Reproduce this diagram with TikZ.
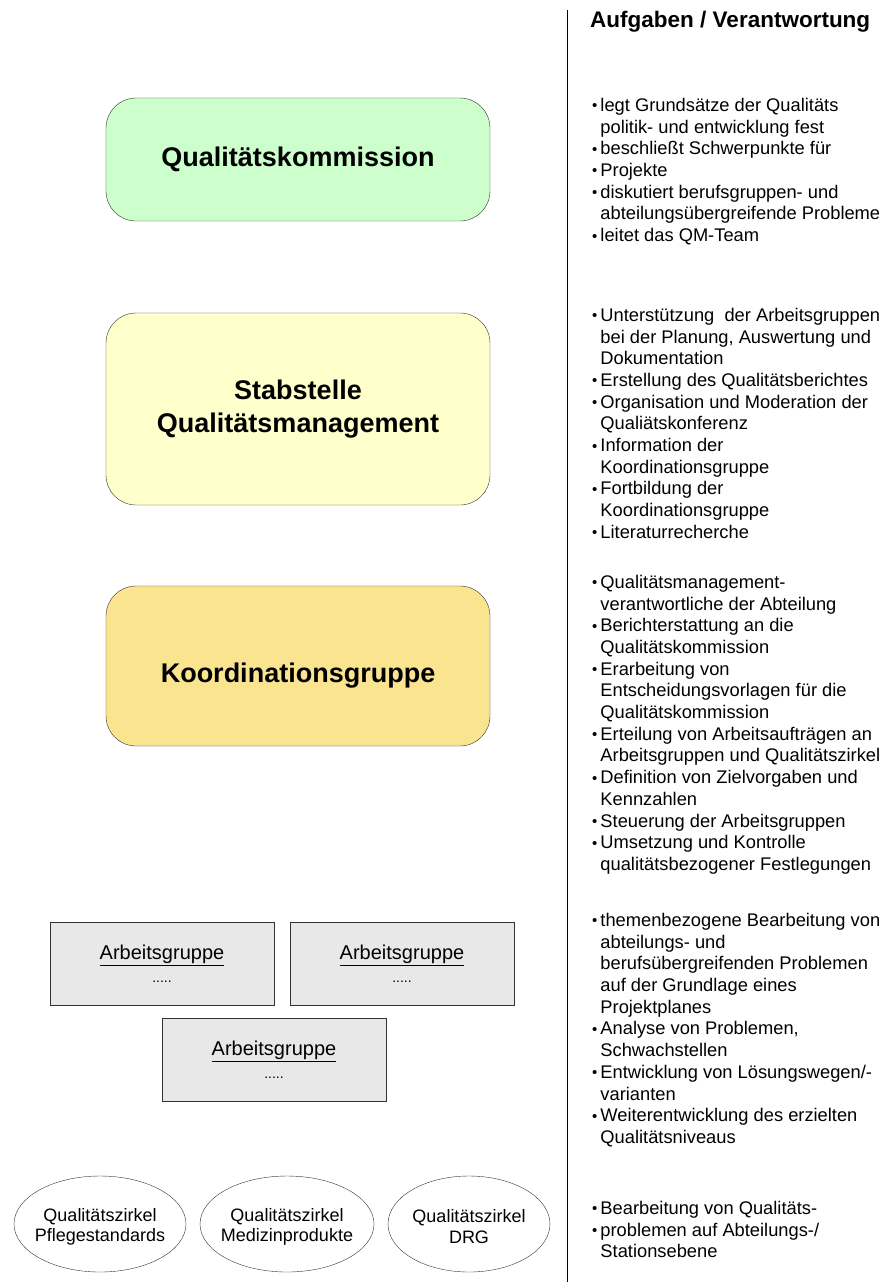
\documentclass[tikz,border=0pt]{standalone}
\usepackage{fontspec}
\setmainfont{Liberation Sans}
\usepackage{tikz}
\usetikzlibrary{positioning,shapes}
\usepackage{xcolor}
\definecolor{qkgreen}{RGB}{204,255,204}
\definecolor{sqyellow}{RGB}{255,255,204}
\definecolor{kgorange}{RGB}{251,228,143}
\definecolor{aggray}{RGB}{232,232,232}
\newcommand{\blt}{\raisebox{0.5pt}{\fontsize{15}{15}\selectfont\textbullet}}
\newcommand{\aufg}{\fontsize{18.3}{21.7}\selectfont}
\newcommand{\punkte}{{\fontsize{14}{14}\selectfont.....}}
\tikzset{
    level/.style={
        draw=black!80,
        rounded corners=30pt,
        minimum width=384pt,
        align=center,
        font=\fontsize{27}{33}\selectfont\bfseries
    },
    group/.style={
        draw=black!80,
        fill=aggray,
        minimum width=224pt,
        minimum height=83pt,
        align=center,
        font=\fontsize{20}{25}\selectfont
    },
    circle/.style={
        draw=black!80,
        ellipse,
        inner sep=-30pt,
        minimum height=96pt,
        align=center,
        text height=39pt,
        font=\fontsize{18}{20.5}\selectfont
    },
    tasks/.style={
        anchor=north west,
        inner sep=0pt,
        align=left,
        font=\aufg
    }
}

\begin{document}
\begin{tikzpicture}[x=1pt, y=-1pt]
    \useasboundingbox (0,0) rectangle (885,1282);

    % left column: levels
    \node[level, fill=qkgreen, minimum height=123pt] (QK) at (298,159.5) {Qualitätskommission};
    \node[level, fill=sqyellow, minimum height=192pt] (SQ) at (298,409) {Stabstelle\\Qualitätsmanagement};
    \node[level, fill=kgorange, minimum height=160pt, text height=39pt, text depth=6pt] (KG) at (298,666) {Koordinationsgruppe};

    \node[group] (AG1) at (162,963.5) {\underline{Arbeitsgruppe}\\[-2pt]\punkte};
    \node[group] (AG2) at (402,963.5) {\underline{Arbeitsgruppe}\\[-2pt]\punkte};
    \node[group] (AG3) at (274,1059.5) {\underline{Arbeitsgruppe}\\[-2pt]\punkte};

    \node[circle, minimum width=172pt] (QZ1) at (100,1224) {Qualitätszirkel\\Pflegestandards};
    \node[circle, minimum width=174pt] (QZ2) at (287,1224) {Qualitätszirkel\\Medizinprodukte};
    \node[circle, minimum width=162pt] (QZ3) at (469,1224) {Qualitätszirkel\\DRG};

    % separator
    \coordinate (sepTop) at (567,10);
    \coordinate (sepBot) at (567,1282);
    \draw[thick] (sepTop) -- (sepBot);

    % right column: tasks
    \node[anchor=west, inner sep=0pt, font=\fontsize{22.5}{26}\selectfont\bfseries] (head) at (590,22) {Aufgaben / Verantwortung};

    \node[tasks] (T1) at (592,96) {%
    \begin{tabular}{@{}l@{\hspace{3pt}}l@{}}
    \blt & legt Grundsätze der Qualitäts\\
         & politik- und entwicklung fest\\
    \blt & beschließt Schwerpunkte für\\
    \blt & Projekte\\
    \blt & diskutiert berufsgruppen- und\\
         & abteilungsübergreifende Probleme\\
    \blt & leitet das QM-Team
    \end{tabular}};

    \node[tasks] (T2) at (592,306) {%
    \begin{tabular}{@{}l@{\hspace{3pt}}l@{}}
    \blt & Unterstützung\ \ der Arbeitsgruppen\\
         & bei der Planung, Auswertung und\\
         & Dokumentation\\
    \blt & Erstellung des Qualitätsberichtes\\
    \blt & Organisation und Moderation der\\
         & Qualiätskonferenz\\
    \blt & Information der\\
         & Koordinationsgruppe\\
    \blt & Fortbildung der\\
         & Koordinationsgruppe\\
    \blt & Literaturrecherche
    \end{tabular}};

    \node[tasks] (T3) at (592,573) {%
    \begin{tabular}{@{}l@{\hspace{3pt}}l@{}}
    \blt & Qualitätsmanagement-\\
         & verantwortliche der Abteilung\\
    \blt & Berichterstattung an die\\
         & Qualitätskommission\\
    \blt & Erarbeitung von\\
         & Entscheidungsvorlagen für die\\
         & Qualitätskommission\\
    \blt & Erteilung von Arbeitsaufträgen an\\
         & Arbeitsgruppen und Qualitätszirkel\\
    \blt & Definition von Zielvorgaben und\\
         & Kennzahlen\\
    \blt & Steuerung der Arbeitsgruppen\\
    \blt & Umsetzung und Kontrolle\\
         & qualitätsbezogener Festlegungen
    \end{tabular}};

    \node[tasks] (T4) at (592,911) {%
    \begin{tabular}{@{}l@{\hspace{3pt}}l@{}}
    \blt & themenbezogene Bearbeitung von\\
         & abteilungs- und\\
         & berufsübergreifenden Problemen\\
         & auf der Grundlage eines\\
         & Projektplanes\\
    \blt & Analyse von Problemen, \\
         & Schwachstellen\\
    \blt & Entwicklung von Lösungswegen/-\\
         & varianten\\
    \blt & Weiterentwicklung des erzielten\\
         & Qualitätsniveaus
    \end{tabular}};

    \node[tasks] (T5) at (592,1199) {%
    \begin{tabular}{@{}l@{\hspace{3pt}}l@{}}
    \blt & Bearbeitung von Qualitäts-\\
    \blt & problemen auf Abteilungs-/\\
         & Stationsebene
    \end{tabular}};
\end{tikzpicture}
\end{document}
